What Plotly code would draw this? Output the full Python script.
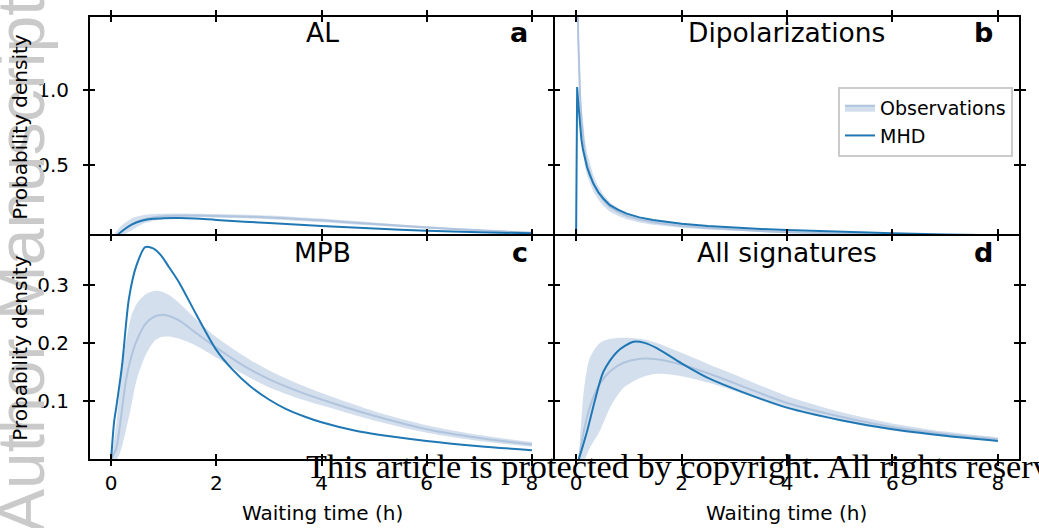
import plotly.graph_objects as go

# ---------------------------------------------------------------- data
# Panel a: AL
al_obs_t = [0.0, 0.1, 0.2, 0.4, 0.6, 0.8, 1.0, 1.5, 2.0, 3.0, 4.0, 5.0, 6.0, 7.0, 8.0]
al_obs_med = [0.0, 0.02, 0.05, 0.10, 0.13, 0.145, 0.152, 0.157, 0.155, 0.145, 0.125, 0.10, 0.078, 0.058, 0.042]
al_obs_hi = [0.0, 0.05, 0.09, 0.14, 0.16, 0.168, 0.17, 0.17, 0.168, 0.158, 0.137, 0.11, 0.085, 0.064, 0.047]
al_obs_lo = [0.0, 0.0, 0.02, 0.06, 0.10, 0.122, 0.135, 0.145, 0.143, 0.133, 0.113, 0.09, 0.07, 0.052, 0.038]
al_mhd_t = [0.04, 0.1, 0.2, 0.4, 0.6, 0.8, 1.0, 1.3, 1.6, 2.0, 3.0, 4.0, 5.0, 6.0, 7.0, 8.0]
al_mhd = [0.0, 0.02, 0.05, 0.098, 0.124, 0.136, 0.14, 0.141, 0.137, 0.128, 0.107, 0.087, 0.07, 0.055, 0.045, 0.038]

# Panel b: Dipolarizations
dip_obs_t = [0.003, 0.01, 0.02, 0.04, 0.06, 0.08, 0.1, 0.13, 0.165, 0.21, 0.26, 0.33, 0.42, 0.52,
             0.64, 0.8, 0.96, 1.2, 1.46, 1.75, 2.0, 2.5, 3.0, 3.5, 4.0, 5.0, 6.0, 7.0, 8.0]
dip_obs_med = [4.0, 2.5, 1.9, 1.35, 1.08, 0.92, 0.80, 0.68, 0.58, 0.50, 0.44, 0.37, 0.31, 0.26,
               0.215, 0.18, 0.155, 0.13, 0.112, 0.098, 0.088, 0.073, 0.062, 0.053, 0.046, 0.036, 0.029, 0.024, 0.02]
dip_obs_hi = [4.6, 2.9, 2.2, 1.55, 1.24, 1.06, 0.92, 0.78, 0.67, 0.575, 0.505, 0.425, 0.355, 0.298,
              0.247, 0.206, 0.177, 0.149, 0.128, 0.112, 0.1, 0.083, 0.07, 0.06, 0.052, 0.041, 0.033, 0.027, 0.023]
dip_obs_lo = [3.4, 2.1, 1.6, 1.15, 0.92, 0.78, 0.68, 0.58, 0.49, 0.425, 0.375, 0.315, 0.265, 0.222,
              0.183, 0.154, 0.133, 0.111, 0.096, 0.084, 0.076, 0.063, 0.054, 0.046, 0.04, 0.031, 0.025, 0.021, 0.017]
dip_mhd_t = [0.0, 0.02, 0.04, 0.06, 0.08, 0.1, 0.13, 0.165, 0.21, 0.26, 0.33, 0.42, 0.52, 0.64, 0.8,
             0.96, 1.2, 1.46, 1.75, 2.0, 2.5, 3.0, 3.5, 4.0, 5.0, 6.0, 7.0, 8.0]
dip_mhd = [0.0, 1.02, 0.92, 0.83, 0.74, 0.67, 0.60, 0.54, 0.48, 0.43, 0.37, 0.315, 0.27, 0.227, 0.195,
           0.17, 0.145, 0.127, 0.113, 0.103, 0.087, 0.075, 0.067, 0.06, 0.047, 0.038, 0.031, 0.025]

# Panel c: MPB
mpb_obs_t = [0.0, 0.1, 0.2, 0.28, 0.38, 0.48, 0.65, 0.82, 0.95, 1.1, 1.3, 1.6, 2.0, 2.5, 3.0, 3.5, 4.0, 5.0, 6.0, 7.0, 8.0]
mpb_obs_med = [0.0, 0.02, 0.08, 0.134, 0.175, 0.202, 0.232, 0.245, 0.248, 0.246, 0.238, 0.218, 0.192, 0.162,
               0.138, 0.119, 0.103, 0.075, 0.052, 0.037, 0.026]
mpb_obs_hi = [0.0, 0.06, 0.15, 0.20, 0.245, 0.266, 0.283, 0.289, 0.288, 0.282, 0.268, 0.242, 0.21, 0.179,
              0.153, 0.132, 0.114, 0.083, 0.059, 0.042, 0.030]
mpb_obs_lo = [0.0, 0.0, 0.02, 0.049, 0.09, 0.134, 0.178, 0.203, 0.21, 0.211, 0.207, 0.196, 0.175, 0.147,
              0.124, 0.107, 0.093, 0.067, 0.046, 0.032, 0.022]
mpb_mhd_t = [0.0, 0.06, 0.1, 0.21, 0.34, 0.48, 0.65, 0.8, 0.95, 1.1, 1.29, 1.63, 2.0, 2.3, 2.64, 3.0,
             3.32, 3.7, 4.0, 4.67, 5.3, 6.0, 7.0, 8.0]
mpb_mhd = [0.0, 0.066, 0.09, 0.162, 0.276, 0.332, 0.364, 0.362, 0.35, 0.33, 0.304, 0.247, 0.188, 0.155,
           0.126, 0.103, 0.087, 0.073, 0.064, 0.049, 0.04, 0.032, 0.023, 0.016]

# Panel d: All signatures
all_obs_t = [0.05, 0.15, 0.26, 0.45, 0.65, 0.9, 1.22, 1.53, 2.0, 2.5, 3.0, 4.0, 5.0, 6.0, 7.0, 8.0]
all_obs_med = [0.0, 0.05, 0.09, 0.13, 0.152, 0.166, 0.173, 0.172, 0.163, 0.148, 0.131, 0.097, 0.074, 0.056, 0.044, 0.035]
all_obs_hi = [0.0, 0.12, 0.174, 0.20, 0.207, 0.209, 0.207, 0.20, 0.183, 0.164, 0.146, 0.109, 0.082, 0.062, 0.048, 0.038]
all_obs_lo = [0.0, 0.0, 0.02, 0.049, 0.09, 0.123, 0.14, 0.147, 0.143, 0.132, 0.118, 0.087, 0.066, 0.05, 0.039, 0.031]
all_mhd_t = [0.05, 0.21, 0.37, 0.52, 0.78, 1.09, 1.3, 1.53, 2.0, 2.5, 3.12, 4.0, 5.0, 6.0, 7.0, 8.0]
all_mhd = [0.0, 0.049, 0.106, 0.151, 0.185, 0.202, 0.2, 0.191, 0.165, 0.14, 0.117, 0.089, 0.068, 0.052, 0.041, 0.032]

panel_titles = ["AL", "Dipolarizations", "MPB", "All signatures"]
panel_letters = ["a", "b", "c", "d"]
x_ticks = [0, 2, 4, 6, 8]
top_y_ticks = [0.5, 1.0]
bottom_y_ticks = [0.1, 0.2, 0.3]

# ---------------------------------------------------------------- layout helpers
W, H = 1039, 528
ML, MR, MT, MB = 90, 20, 10, 69
PW = W - ML - MR
PH = H - MT - MB


def px(x):
    return (x - ML) / PW


def py(y):
    return (H - MB - y) / PH


LINE_W = 2
# neighbouring panels are separated by one line width so their shared borders coincide
LEFT_END, RIGHT_START = px(553), px(555)
TOP_END, BOTTOM_START = py(232), py(234)

MHD_COLOR = "#1f77b4"
OBS_LINE = "#b0c4de"
OBS_FILL = "rgba(176,196,222,0.55)"
FONT = "DejaVu Sans"

fig = go.Figure()

panels = [
    ("x", "y", al_obs_t, al_obs_med, al_obs_hi, al_obs_lo, al_mhd_t, al_mhd, "spline"),
    ("x2", "y2", dip_obs_t, dip_obs_med, dip_obs_hi, dip_obs_lo, dip_mhd_t, dip_mhd, "linear"),
    ("x3", "y3", mpb_obs_t, mpb_obs_med, mpb_obs_hi, mpb_obs_lo, mpb_mhd_t, mpb_mhd, "spline"),
    ("x4", "y4", all_obs_t, all_obs_med, all_obs_hi, all_obs_lo, all_mhd_t, all_mhd, "spline"),
]

for i, (xa, ya, ot, om, oh, ol, mt, mv, shape) in enumerate(panels):
    line_kw = dict(shape=shape)
    if shape == "spline":
        line_kw["smoothing"] = 0.8
    fig.add_trace(go.Scatter(x=ot, y=ol, xaxis=xa, yaxis=ya, mode="lines",
                             line=dict(width=0, **line_kw), showlegend=False, hoverinfo="skip"))
    fig.add_trace(go.Scatter(x=ot, y=oh, xaxis=xa, yaxis=ya, mode="lines", fill="tonexty",
                             fillcolor=OBS_FILL, line=dict(width=0, **line_kw),
                             showlegend=False, hoverinfo="skip"))
    fig.add_trace(go.Scatter(x=ot, y=om, xaxis=xa, yaxis=ya, mode="lines",
                             line=dict(color=OBS_LINE, width=2, **line_kw), showlegend=False))
    if i == 1:
        # legend entry for the observation band
        fig.add_trace(go.Scatter(x=[None], y=[None], xaxis=xa, yaxis=ya, mode="lines",
                                 fill="toself", fillcolor=OBS_FILL,
                                 line=dict(color=OBS_LINE, width=2),
                                 name="Observations", showlegend=True, legendrank=1))
    fig.add_trace(go.Scatter(x=mt, y=mv, xaxis=xa, yaxis=ya, mode="lines",
                             line=dict(color=MHD_COLOR, width=2, **line_kw),
                             name="MHD", showlegend=(i == 1), legendrank=2))

# empty traces for the inward-tick overlay axes
for k in range(5, 9):
    fig.add_trace(go.Scatter(x=[None], y=[None], xaxis=f"x{k}", yaxis=f"y{k}",
                             showlegend=False, hoverinfo="skip"))

x_domains = [[0, LEFT_END], [RIGHT_START, 1], [0, LEFT_END], [RIGHT_START, 1]]
y_domains = [[BOTTOM_START, 1], [BOTTOM_START, 1], [0, TOP_END], [0, TOP_END]]
y_ranges = [[0.01, 1.49], [0.01, 1.49], [0.001, 0.384], [0.001, 0.384]]
y_tickvals = [top_y_ticks, top_y_ticks, bottom_y_ticks, bottom_y_ticks]

layout = {}
for i in range(4):
    n = "" if i == 0 else str(i + 1)
    ov = str(i + 5)
    common_x = dict(range=[-0.4, 8.4], tickvals=x_ticks, showgrid=False, zeroline=False,
                    ticklen=5, tickwidth=1.6, tickcolor="black", mirror="allticks",
                    showline=True, linecolor="black", linewidth=LINE_W)
    common_y = dict(range=y_ranges[i], tickvals=y_tickvals[i], showgrid=False, zeroline=False,
                    ticklen=5, tickwidth=1.6, tickcolor="black", mirror="allticks",
                    showline=True, linecolor="black", linewidth=LINE_W)
    layout["xaxis" + n] = dict(domain=x_domains[i], anchor="y" + n, ticks="outside",
                               showticklabels=(i >= 2),
                               tickfont=dict(family=FONT, size=20, color="black"),
                               **common_x)
    layout["yaxis" + n] = dict(domain=y_domains[i], anchor="x" + n, ticks="outside",
                               showticklabels=(i % 2 == 0), tickformat=".1f",
                               ticklabelstandoff=10,
                               tickfont=dict(family=FONT, size=20, color="black"),
                               **common_y)
    layout["xaxis" + ov] = dict(overlaying="x" + n, anchor="y" + ov, ticks="inside",
                                showticklabels=False, **common_x)
    layout["yaxis" + ov] = dict(overlaying="y" + n, anchor="x" + ov, ticks="inside",
                                showticklabels=False, **common_y)

annotations = []


def note(text, x, y, size, family=FONT, color="black", angle=0, xanchor="center", yanchor="middle"):
    annotations.append(dict(text=text, xref="paper", yref="paper", x=px(x), y=py(y),
                            textangle=angle, showarrow=False, xanchor=xanchor, yanchor=yanchor,
                            font=dict(family=family, size=size, color=color)))


# faint vertical watermark along the left edge
note("Author Manuscript", 21, 262, 66, family="Liberation Sans", color="#cacaca", angle=-90)

centers_x = [322, 786.5, 322, 786.5]
title_y = [26, 26, 249, 249]
right_x = [530, 995, 530, 995]
for i in range(4):
    note(panel_titles[i], centers_x[i], title_y[i], 26.5)
    note("<b>" + panel_letters[i] + "</b>", right_x[i], title_y[i], 27, xanchor="right")

for yc in (121.5, 346):
    note("Probability density", 20, yc, 20, angle=-90)
for xc in (322, 786.5):
    note("Waiting time (h)", xc, 514, 20)

note("This article is protected by copyright. All rights reserved.", 304, 466, 34.3,
     family="Liberation Serif", xanchor="left")

fig.update_layout(
    width=W, height=H,
    margin=dict(l=ML, r=MR, t=MT, b=MB),
    paper_bgcolor="white", plot_bgcolor="white",
    annotations=annotations,
    legend=dict(x=px(1013), y=py(81), xanchor="right", yanchor="top", traceorder="normal",
                bgcolor="rgba(255,255,255,0.85)", bordercolor="#cccccc", borderwidth=2,
                font=dict(family=FONT, size=19, color="black"), itemwidth=30),
    **layout,
)

fig.write_html("out.html")
